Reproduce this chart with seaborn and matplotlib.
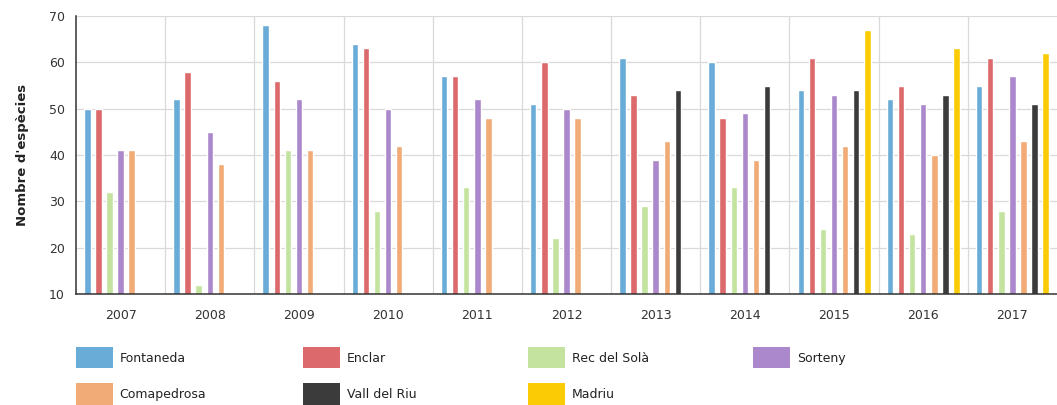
import matplotlib
matplotlib.use("Agg")

import matplotlib.pyplot as plt
import numpy as np
import pandas as pd
import seaborn as sns
from matplotlib.patches import Patch
from matplotlib.ticker import FixedLocator

years = ["2007", "2008", "2009", "2010", "2011", "2012",
         "2013", "2014", "2015", "2016", "2017"]
sites = ["Fontaneda", "Enclar", "Rec del Solà", "Sorteny",
         "Comapedrosa", "Vall del Riu", "Madriu"]

nan = np.nan
fontaneda = [50, 52, 68, 64, 57, 51, 61, 60, 54, 52, 55]
enclar = [50, 58, 56, 63, 57, 60, 53, 48, 61, 55, 61]
rec_del_sola = [32, 12, 41, 28, 33, 22, 29, 33, 24, 23, 28]
sorteny = [41, 45, 52, 50, 52, 50, 39, 49, 53, 51, 57]
comapedrosa = [41, 38, 41, 42, 48, 48, 43, 39, 42, 40, 43]
vall_del_riu = [nan, nan, nan, nan, nan, nan, 54, 55, 54, 53, 51]
madriu = [nan, nan, nan, nan, nan, nan, nan, nan, 67, 63, 62]

colors = ["#6aacd8", "#dc6a6c", "#c3e39e", "#ab88cb",
          "#f0ab77", "#3b3b3b", "#fbcb05"]

series = [fontaneda, enclar, rec_del_sola, sorteny,
          comapedrosa, vall_del_riu, madriu]
rows = []
for site, vals in zip(sites, series):
    for year, v in zip(years, vals):
        rows.append({"year": year, "site": site, "value": v})
df = pd.DataFrame(rows)

sns.set_style("white")
plt.rcParams["font.family"] = ["DejaVu Sans"]

fig = plt.figure(figsize=(10.57, 4.05), dpi=100)
ax = fig.add_axes([0.0719, 0.274, 0.9281, 0.6865])

sns.barplot(data=df, x="year", y="value", hue="site", order=years,
            hue_order=sites, palette=colors, width=0.87, gap=0.42,
            saturation=1, ax=ax, legend=False)

ax.set_xlim(-0.5, len(years) - 0.5)
ax.set_ylim(10, 70)
ax.set_yticks(range(10, 71, 10))

# vertical grid at the category boundaries
ax.xaxis.set_minor_locator(FixedLocator(np.arange(0.5, len(years) - 0.5, 1)))
ax.grid(True, axis="y", which="major", color="#d9d9d9", linewidth=0.9)
ax.grid(True, axis="x", which="minor", color="#d9d9d9", linewidth=0.9)
ax.set_axisbelow(True)
ax.tick_params(axis="x", which="minor", length=0)

for side in ["top", "right"]:
    ax.spines[side].set_visible(False)
for side in ["left", "bottom"]:
    ax.spines[side].set_color("#333333")
    ax.spines[side].set_linewidth(1.1)

ax.tick_params(axis="both", which="major", direction="out", length=5,
               width=1.1, color="#333333", labelsize=9, labelcolor="#333333")
ax.tick_params(axis="y", pad=3)
ax.tick_params(axis="x", pad=6)

ax.set_xlabel("")
ax.set_ylabel("Nombre d'espècies", fontsize=9.5, fontweight="bold",
              color="#222222", labelpad=14)

# legend: 4 columns, 2 rows, laid out like the reference
handles = [Patch(facecolor=c, edgecolor="none") for c in colors]
col_x = [76, 303, 528, 753]
for i, x in enumerate(col_x):
    idx = [j for j in (i, i + 4) if j < len(sites)]
    leg = fig.legend([handles[j] for j in idx], [sites[j] for j in idx],
                     loc="upper left",
                     bbox_to_anchor=(x / 1057, 1 - 347 / 405),
                     frameon=False, fontsize=9, handlelength=2.95,
                     handleheight=2.25, handletextpad=0.55,
                     labelspacing=1.2, borderpad=0, borderaxespad=0)
    for t in leg.get_texts():
        t.set_color("#222222")

fig.savefig("out.png", dpi=100)
